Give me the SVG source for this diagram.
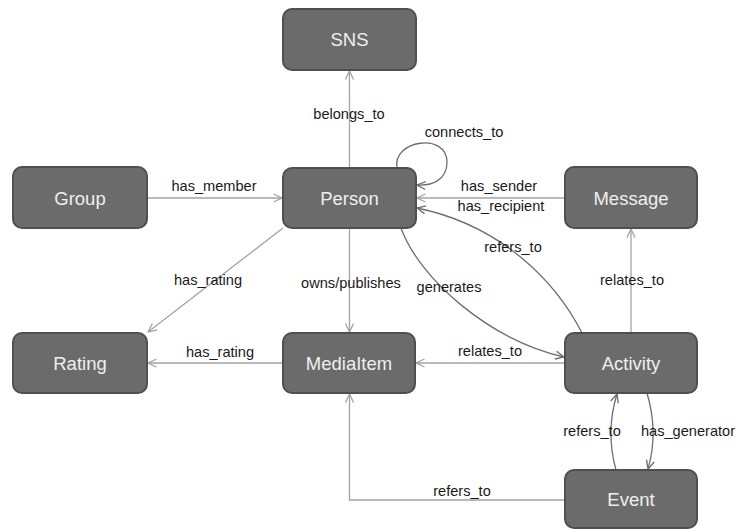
<svg xmlns="http://www.w3.org/2000/svg" width="737" height="529" viewBox="0 0 737 529">
  <style>
    .node rect { fill: #6b6b6b; stroke: #4f4f4f; stroke-width: 2; }
    .node text { font-family: "Liberation Sans", Arial, sans-serif; font-size: 18.5px; fill: #efefef; text-anchor: middle; }
    .edge { fill: none; stroke: #a3a3a3; stroke-width: 1.3; marker-end: url(#arrow); }
    .edge.dark { stroke: #6e6e6e; marker-end: url(#arrowDark); }
    .label { font-family: "Liberation Sans", Arial, sans-serif; font-size: 14.6px; fill: #1a1a1a; text-anchor: middle; }
  </style>
  <defs>
    <marker id="arrow" viewBox="0 0 10 10" refX="9.5" refY="5" markerWidth="10" markerHeight="10" markerUnits="userSpaceOnUse" orient="auto">
      <path d="M1,1 L9.5,5 L1,9" fill="none" stroke="#a3a3a3" stroke-width="1.3"/>
    </marker>
    <marker id="arrowDark" viewBox="0 0 10 10" refX="9.5" refY="5" markerWidth="10" markerHeight="10" markerUnits="userSpaceOnUse" orient="auto">
      <path d="M1,1 L9.5,5 L1,9" fill="none" stroke="#6e6e6e" stroke-width="1.3"/>
    </marker>
  </defs>

  <rect width="737" height="529" fill="#ffffff"/>

  <!-- connectors -->
  <g id="connectors">
    <path class="edge" d="M349.5,168 L349.5,71"/>
    <path class="edge dark" d="M397,168 C392,140 447,132 447,162 C447,180 432,186 417,185"/>
    <path class="edge" d="M147,198 L282,198"/>
    <path class="edge" d="M565,198 L417,198"/>
    <path class="edge dark" d="M582,333 C555,280 500,225 417,208"/>
    <path class="edge dark" d="M401,228 C420,280 490,340 564,357"/>
    <path class="edge" d="M349.5,228 L349.5,332"/>
    <path class="edge" d="M283,228 L148,332"/>
    <path class="edge" d="M283,363 L148,363"/>
    <path class="edge" d="M565,363 L416,363"/>
    <path class="edge" d="M631,333 L631,229"/>
    <path class="edge dark" d="M616,470 C609,445 609,420 617,394"/>
    <path class="edge dark" d="M647,393 C655,420 655,445 648,469"/>
    <path class="edge" d="M565,500 L349.5,500 L349.5,394"/>

    <text class="label" x="349" y="119">belongs_to</text>
    <text class="label" x="464" y="137">connects_to</text>
    <text class="label" x="214" y="191">has_member</text>
    <text class="label" x="499" y="191">has_sender</text>
    <text class="label" x="501" y="211">has_recipient</text>
    <text class="label" x="513" y="252">refers_to</text>
    <text class="label" x="449" y="292">generates</text>
    <text class="label" x="632" y="285">relates_to</text>
    <text class="label" x="351" y="288">owns/publishes</text>
    <text class="label" x="208" y="285">has_rating</text>
    <text class="label" x="220" y="357">has_rating</text>
    <text class="label" x="490" y="356">relates_to</text>
    <text class="label" x="592" y="436">refers_to</text>
    <text class="label" x="688" y="436">has_generator</text>
    <text class="label" x="462" y="496">refers_to</text>
  </g>

  <!-- nodes -->
  <g id="sns" class="node"><rect x="283" y="9" width="133" height="61" rx="9"/><text x="349.5" y="46">SNS</text></g>
  <g id="group" class="node"><rect x="13" y="167" width="134" height="61" rx="9"/><text x="80" y="204.5">Group</text></g>
  <g id="person" class="node"><rect x="283" y="168" width="133" height="60" rx="9"/><text x="349.5" y="204.5">Person</text></g>
  <g id="message" class="node"><rect x="565" y="167" width="132" height="61" rx="9"/><text x="631" y="204.5">Message</text></g>
  <g id="rating" class="node"><rect x="13" y="333" width="134" height="60" rx="9"/><text x="80" y="369.5">Rating</text></g>
  <g id="mediaitem" class="node"><rect x="283" y="333" width="132" height="60" rx="9"/><text x="349" y="369.5">MediaItem</text></g>
  <g id="activity" class="node"><rect x="565" y="333" width="132" height="60" rx="9"/><text x="631" y="369.5">Activity</text></g>
  <g id="event" class="node"><rect x="565" y="470" width="132" height="58" rx="9"/><text x="631" y="505.5">Event</text></g>
</svg>
